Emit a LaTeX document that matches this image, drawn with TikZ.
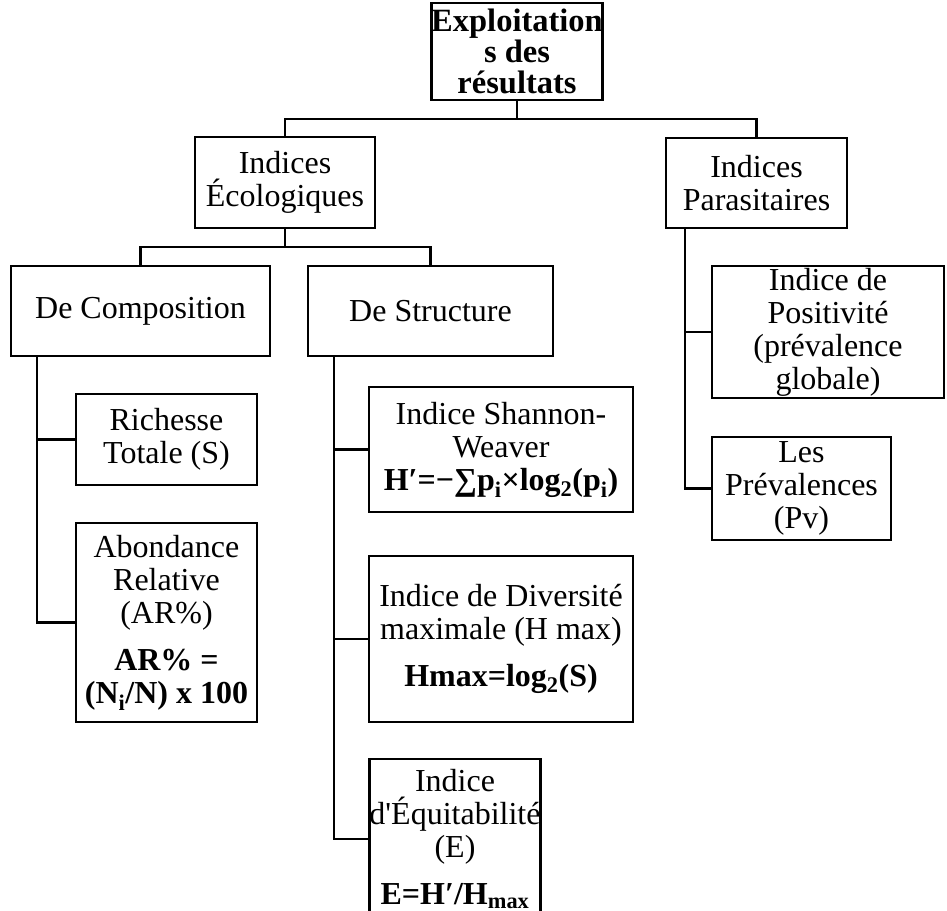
\documentclass[tikz,border=0pt]{standalone}
\usepackage{fontspec}
\newfontfamily\diagfont{Liberation Serif}

\tikzset{
  box/.style={draw, line width=2.8pt, align=center, inner sep=0pt,
    font=\diagfont\fontsize{32}{33}\selectfont},
  link/.style={line width=2.8pt},
}

\begin{document}
\begin{tikzpicture}[x=1pt, y=-1pt]
    \useasboundingbox (0,0) rectangle (947,910);

    % -- Racine --
    \node[box, minimum width=168pt, minimum height=97pt,
          font=\diagfont\bfseries\fontsize{32.5}{31}\selectfont]
        (root) at (517,51.5) {Exploitation\\s des\\résultats};

    % -- Deux familles d'indices --
    \node[box, minimum width=180pt, minimum height=91pt] (ecol) at (285,182.5) {Indices\\Écologiques};
    \node[box, minimum width=181pt, minimum height=90pt] (para) at (756.5,183) {Indices\\Parasitaires};

    % -- Indices écologiques --
    \node[box, minimum width=259pt, minimum height=90pt] (comp) at (140.5,311) {De Composition};
    \node[box, minimum width=245pt, minimum height=90pt] (struc) at (430.5,311) {De Structure};

    % -- De composition --
    \node[box, minimum width=181pt, minimum height=91pt] (rich) at (166.5,439.5) {Richesse\\Totale (S)};
    \node[box, minimum width=181pt, minimum height=199pt] (abond) at (166.5,622.5)
        {Abondance\\Relative\\(AR\%)\\[14pt]\textbf{AR\% =}\\\textbf{(N\textsubscript{i}/N) x 100}};

    % -- De structure --
    \node[box, minimum width=264pt, minimum height=125pt] (shan) at (501,449.5)
        {Indice Shannon-\\Weaver\\\textbf{H′=−∑p\textsubscript{i}×log\textsubscript{2}(p\textsubscript{i})}};
    \node[box, minimum width=264pt, minimum height=166pt] (div) at (501,639)
        {Indice de Diversité\\maximale (H max)\\[14pt]\textbf{Hmax=log\textsubscript{2}(S)}};
    \node[box, minimum width=170pt, minimum height=160pt] (equit) at (455,839)
        {Indice\\d'Équitabilité\\(E)\\[14pt]\textbf{E=H′/H\textsubscript{max}}};

    % -- Indices parasitaires --
    \node[box, minimum width=232pt, minimum height=132pt] (posit) at (828,332)
        {Indice de\\Positivité\\(prévalence\\globale)};
    \node[box, minimum width=179pt, minimum height=103pt] (prev) at (801.5,488.5)
        {Les\\Prévalences\\(Pv)};

    % -- Barres horizontales et troncs --
    \coordinate (bus1) at (0,119);
    \coordinate (bus2) at (0,247);
    \coordinate (cs) at (37,356);
    \coordinate (ss) at (334,356);
    \coordinate (ps) at (685,228);

    % -- Liaisons --
    \draw[link] (root.south) -- (root.south |- bus1);
    \draw[link] (ecol.north) |- (para.north |- bus1) -- (para.north);
    \draw[link] (ecol.south) -- (ecol.south |- bus2);
    \draw[link] (comp.north) |- (struc.north |- bus2) -- (struc.north);

    \draw[link] (cs) |- (rich.west);
    \draw[link] (cs) |- (abond.west);

    \draw[link] (ss) |- (shan.west);
    \draw[link] (ss) |- (div.west);
    \draw[link] (ss) |- (equit.west);

    \draw[link] (ps) |- (posit.west);
    \draw[link] (ps) |- (prev.west);
\end{tikzpicture}
\end{document}
